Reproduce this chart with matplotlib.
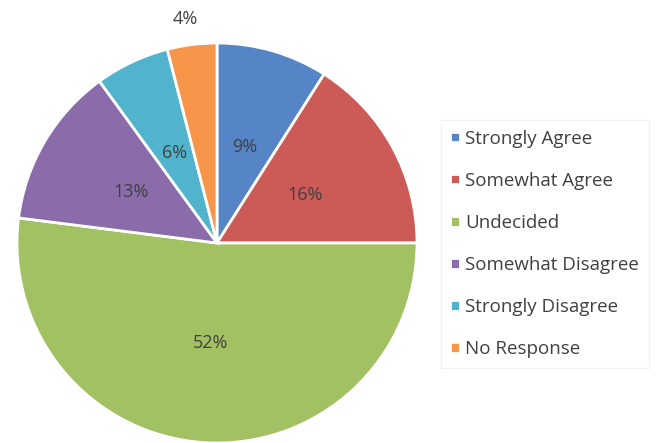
import matplotlib.pyplot as plt

categories = ['Strongly Agree', 'Somewhat Agree', 'Undecided',
              'Somewhat Disagree', 'Strongly Disagree', 'No Response']
percents = [9, 16, 52, 13, 6, 4]
colors = ['#5585c7', '#cc5a57', '#a2c163', '#8a6cab', '#52b3cc', '#f7964a']

plt.rcParams['font.family'] = ['Open Sans', 'DejaVu Sans']

fig = plt.figure(figsize=(6.67, 4.43), dpi=100)
ax = fig.add_axes([17 / 667, 0, 400 / 667, 400 / 443])

wedges, texts, autotexts = ax.pie(
    percents, colors=colors, startangle=90, counterclock=False,
    autopct='%d%%', pctdistance=0.5,
    wedgeprops={'edgecolor': 'white', 'linewidth': 2},
    textprops={'fontsize': 13, 'color': '#404040'})

# smallest slice label sits outside the pie
autotexts[-1].set_position((-0.16, 1.12))
autotexts[-1].set_clip_on(False)

ax.set_xlim(-1, 1)
ax.set_ylim(-1, 1)
ax.set_aspect('equal')

leg = fig.legend(wedges, categories, loc='center left',
                 bbox_to_anchor=(441 / 667, 1 - 244 / 443),
                 fontsize=13.5, labelspacing=1.29, handlelength=0.5,
                 handleheight=0.5, handletextpad=0.3, frameon=True,
                 fancybox=False, borderpad=0.5, borderaxespad=0)
leg.get_frame().set_edgecolor('#eeeeee')
leg.get_frame().set_linewidth(0.8)
for t in leg.get_texts():
    t.set_color('#404040')

fig.savefig('out.png', dpi=100)
